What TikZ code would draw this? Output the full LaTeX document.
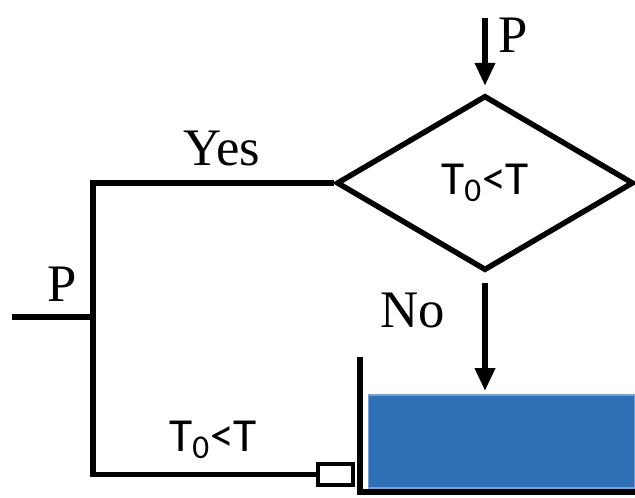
\documentclass[tikz,border=0pt]{standalone}
\usepackage{fontspec}
\setmainfont{Liberation Serif}
\newfontfamily\labelfont{Carlito}
\usetikzlibrary{positioning, arrows.meta, shapes.geometric, calc}

\begin{document}
\begin{tikzpicture}[x=0.02cm, y=-0.02cm,
	line width=3.1pt,
	flow/.style={-{Triangle[width=11pt, length=13pt]}},
	serif/.style={font=\fontsize{30}{30}\selectfont},
	cond/.style={font=\labelfont\fontsize{27}{27}\selectfont}]
	\useasboundingbox (0,0) rectangle (635,497);
	
	% Decision
	\node[diamond, draw, inner sep=0pt, minimum width=5.94cm, minimum height=3.5cm, cond] (test) at (485,183) {T\textsubscript{0}<T};
	
	% Tank and wall
	\node[rectangle, fill={rgb,255:red,46;green,112;blue,181}, draw={rgb,255:red,120;green,160;blue,210}, line width=0.6pt, minimum width=5.34cm, minimum height=1.86cm, inner sep=0pt] (tank) at (501.5,441.5) {};
	\draw (360,357) |- (640,492);
	
	% Valve
	\node[rectangle, draw, line width=2.7pt, minimum width=0.7cm, minimum height=0.42cm, inner sep=0pt] (valve) at (335.5,474.5) {};
	
	% Inputs
	\coordinate (pin) at (485,18);
	\coordinate (src) at (12,317);
	\coordinate (join) at (93,317);
	\draw[flow, shorten >=4pt] (pin) -- (test.north);
	\node[serif, anchor=west] (ptop) at (490,35) {P};
	\draw (src) -- (join);
	\node[serif] (pleft) at (62,284) {P};
	
	% Yes branch
	\draw (test.west) -| (join) |- (valve.west);
	\node[serif] (yes) at (222,148) {Yes};
	\node[cond] (cond2) at (213,440) {T\textsubscript{0}<T};
	
	% No branch
	\coordinate (nofrom) at (485,283);
	\draw[flow, shorten >=2pt] (nofrom) -- (nofrom |- tank.north);
	\node[serif] (no) at (413,310) {No};
\end{tikzpicture}
\end{document}
